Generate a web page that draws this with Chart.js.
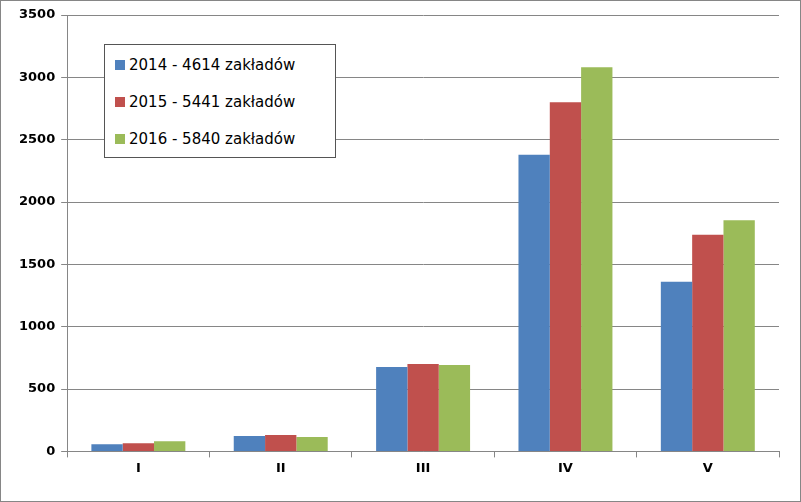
<!DOCTYPE html>
<html><head><meta charset="utf-8">
<script src="https://cdn.jsdelivr.net/npm/chart.js@4"></script>
<style>
html,body{margin:0;padding:0;background:#fff;}
#wrap{position:relative;width:799px;height:500px;border:1px solid #868686;}
#legend{position:absolute;left:103px;top:43px;width:230px;height:112px;border:1px solid #555;background:#fff;font-family:"DejaVu Sans",sans-serif;font-size:15px;color:#000;}
#legend div{position:absolute;left:10px;height:20px;line-height:20px;}
#legend span{display:inline-block;width:10px;height:10px;margin-right:4px;vertical-align:0px;}
</style></head><body>
<div id="wrap"><canvas id="c" width="799" height="500"></canvas>
<div id="legend"></div></div>
<script>
const categories=["I","II","III","IV","V"];
const seriesNames=["2014 - 4614 zakładów","2015 - 5441 zakładów","2016 - 5840 zakładów"];
const v2014=[58,124,676,2380,1360];
const v2015=[66,132,700,2800,1738];
const v2016=[82,115,692,3080,1854];
const colors=["#4F81BD","#C0504D","#9BBB59"];
const lg=document.getElementById('legend');
seriesNames.forEach((n,i)=>{const d=document.createElement('div');d.style.top=(10+i*37)+'px';d.innerHTML='<span style="background:'+colors[i]+'"></span>'+n;lg.appendChild(d);});
new Chart(document.getElementById('c'),{type:'bar',
data:{labels:categories,datasets:[v2014,v2015,v2016].map((d,i)=>({label:seriesNames[i],data:d,backgroundColor:colors[i],categoryPercentage:0.66,barPercentage:1}))},
options:{responsive:false,animation:false,plugins:{legend:{display:false},tooltip:{enabled:false}},
layout:{padding:{top:14,right:21,left:12,bottom:22}},
scales:{x:{grid:{display:true,drawOnChartArea:false,color:'#868686',tickLength:6,offset:true},border:{color:'#868686'},ticks:{color:'#000',font:{family:'"DejaVu Sans"',size:13,weight:'bold'}}},
y:{min:0,max:3500,ticks:{stepSize:500,color:'#000',padding:6,callback:v=>String(v),font:{family:'"DejaVu Sans"',size:13,weight:'bold'}},grid:{color:'#868686',tickLength:6},border:{color:'#868686'}}}}});
</script></body></html>
